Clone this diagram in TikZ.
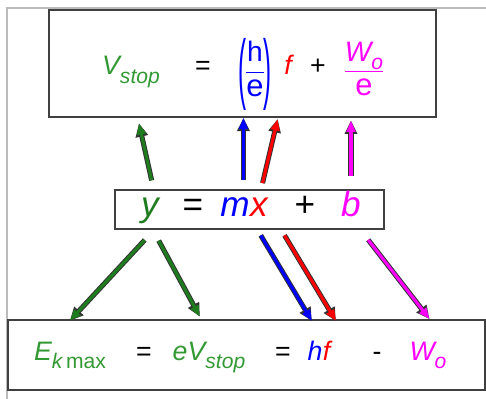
\documentclass[tikz,border=0pt]{standalone}
\usepackage{fontspec}
\usepackage{amsmath}
\usepackage{graphicx}
\setmainfont{Liberation Sans}
\usetikzlibrary{arrows.meta,positioning,calc}
\definecolor{TxtGreen}   {HTML}{339933}
\definecolor{ArrGreen}   {HTML}{1E7B1E}
\definecolor{PureBlue}   {HTML}{0000FF}
\definecolor{PureRed}    {HTML}{FF0000}
\definecolor{PureMagenta}{HTML}{FF00FF}
\definecolor{FrameGray}  {HTML}{BBBBBB}
\definecolor{BoxGray}    {HTML}{404040}
\newcommand{\lowsub}[1]{\raisebox{-0.3em}{\fontsize{15}{15}\selectfont #1}}
\newcommand{\bigparen}[1]{\raisebox{-0.72em}{\scalebox{0.9}[2.9]{\upshape #1}}}
\newcommand{\stackfrac}[2]{%
  {\renewcommand{\arraystretch}{0}%
  \begin{tabular}{@{}c@{}}
    \fontsize{20}{20}\selectfont #1\rule[-7pt]{0pt}{0pt}\\
    \leaders\hrule height 1pt\hfill\kern0pt\\
    \rule{0pt}{16.5pt}\upshape\fontsize{22}{22}\selectfont #2
  \end{tabular}}}
\tikzset{
  eqbox/.style={draw=BoxGray,line width=1.1pt,inner sep=0pt},
  term/.style={inner sep=0pt,anchor=base,text=#1,
               font=\fontsize{19}{22}\selectfont\itshape},
  bigterm/.style={inner sep=0pt,anchor=base,text=#1,
                  font=\fontsize{25}{28}\selectfont\itshape},
  arr/.style={-{Triangle[length=8pt,width=6pt]},line width=2.2pt,draw=#1,
              preaction={draw=black!80,line width=3.6pt,
                         -{Triangle[length=9.5pt,width=8.5pt]}}},
}

\begin{document}
\begin{tikzpicture}[x=0.025cm,y=-0.025cm]

  \useasboundingbox (0,0) rectangle (486,399);
  \draw[FrameGray,line width=0.8pt] (486,8) -- (7,8) -- (7,399);

  % boxes
  \node[eqbox,minimum width=9.675cm,minimum height=2.675cm] (topbox) at (242.5,63.5) {};
  \node[eqbox,minimum width=6.725cm,minimum height=0.975cm] (midbox) at (249.5,209.5) {};
  \node[eqbox,minimum width=11.925cm,minimum height=1.75cm] (botbox) at (246.5,355) {};

  % V_stop = (h/e) f + W_o/e
  \node[term=TxtGreen] (vstop) at (131,75) {V\lowsub{stop}};
  \node[term=black] (eqA) at (203,75) {\upshape =};
  \node[term=PureBlue] (hoe) at (255,75)
    {\bigparen{(}$\stackfrac{\upshape h}{e}$\bigparen{)}};
  \node[term=PureRed] (fA) at (288,75) {f};
  \node[term=black] (plusA) at (318,75) {\upshape +};
  \node[term=PureMagenta] (woe) at (364,75) {$\stackfrac{W\lowsub{o}}{e}$};

  % y = mx + b
  \node[bigterm=ArrGreen] (yv) at (150,217) {y};
  \node[bigterm=black] (eqB) at (193,217) {\upshape =};
  \node[bigterm=PureBlue] (mv) at (235,217) {m};
  \node[bigterm=PureRed,anchor=base west] (xv) at (mv.base east) {x};
  \node[bigterm=black] (plusB) at (305,217) {\upshape +};
  \node[bigterm=PureMagenta] (bv) at (351,217) {b};

  % E_kmax = eV_stop = hf - W_o
  \node[term=TxtGreen] (ekmax) at (70,360) {E\lowsub{k\,\upshape max}};
  \node[term=black] (eqC) at (144,360) {\upshape =};
  \node[term=TxtGreen] (evstop) at (209,360) {eV\lowsub{stop}};
  \node[term=black] (eqD) at (283,360) {\upshape =};
  \node[term=PureBlue] (hv) at (315,360) {h};
  \node[term=PureRed,anchor=base west] (fv) at (hv.base east) {f};
  \node[term=black] (minus) at (377,360) {\upshape -};
  \node[term=PureMagenta] (wo) at (428,360) {W\lowsub{o}};

  % up to the top box
  \draw[arr=ArrGreen,shorten <=13pt,shorten >=26pt] ([xshift=4pt]yv.north) -- (vstop.south);
  \draw[arr=PureBlue,shorten <=13pt] ([xshift=6pt]mv.north) -- ([xshift=6pt]mv.north |- topbox.south);
  \draw[arr=PureRed,shorten <=11pt,shorten >=32pt] (xv.north) -- (fA.south);
  \draw[arr=PureMagenta,shorten <=11pt,shorten >=2pt] (bv.north) -- (bv.north |- topbox.south);

  % down to the bottom box
  \draw[arr=ArrGreen,shorten <=15pt,shorten >=20pt] (yv.south east) -- ([xshift=12pt]ekmax.north west);
  \draw[arr=ArrGreen,shorten <=13pt,shorten >=20pt] (yv.south) -- ([xshift=3pt]evstop.north);
  \draw[arr=PureBlue,shorten <=15pt,shorten >=16pt] (mv.south east) -- ([xshift=6pt]hv.north);
  \draw[arr=PureRed,shorten <=15pt,shorten >=16pt] ([xshift=4pt]xv.south east) -- ([xshift=12pt]fv.north east);
  \draw[arr=PureMagenta,shorten <=20pt,shorten >=20pt] (bv.south) -- (wo.north east);

\end{tikzpicture}
\end{document}
